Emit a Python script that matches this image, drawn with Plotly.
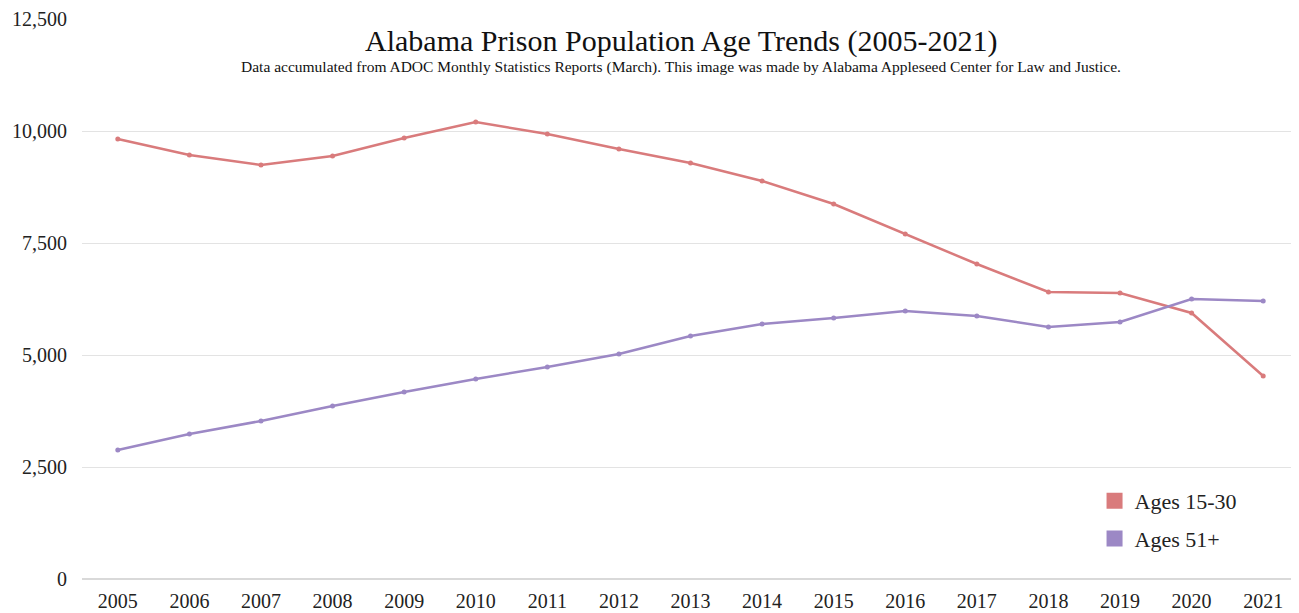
import plotly.graph_objects as go

years = [str(y) for y in range(2005, 2022)]
ages_15_30 = [9821, 9464, 9241, 9442, 9844, 10201, 9933, 9598, 9286, 8884, 8371, 7701, 7031, 6406, 6384, 5938, 4531]
ages_51_plus = [2879, 3237, 3527, 3862, 4174, 4464, 4732, 5022, 5424, 5692, 5826, 5982, 5871, 5625, 5737, 6250, 6205]
series_names = ["Ages 15-30", "Ages 51+"]
colors = ["#d97b7c", "#9c88c5"]
y_ticks = [0, 2500, 5000, 7500, 10000, 12500]

fig = go.Figure()
for name, vals, col in zip(series_names, [ages_15_30, ages_51_plus], colors):
    fig.add_trace(go.Scatter(x=years, y=vals, mode="lines+markers", name=name,
                             line=dict(color=col, width=2.5), marker=dict(color=col, size=5),
                             showlegend=False, hoverinfo="x+y"))
    fig.add_trace(go.Scatter(x=[None], y=[None], mode="markers", name=name, legendgroup=name,
                             marker=dict(color=col, size=18, symbol="square"), showlegend=True))

# body has an 8px default margin; margins compensate so the plot area lands where the reference has it
top, bottom = 11, 42
plot_h = 613 - top - bottom

def py(pix):
    # reference pixel y -> paper coordinate
    return (579 - pix) / plot_h

fig.update_layout(
    width=1299, height=613,
    margin=dict(l=74, r=8, t=top, b=bottom, autoexpand=False),
    paper_bgcolor="white", plot_bgcolor="white",
    font=dict(family="Liberation Serif", color="#222"),
    legend=dict(x=0.832, y=py(480), xanchor="left", yanchor="top",
                font=dict(size=22, family="Liberation Serif", color="#222"),
                bgcolor="rgba(0,0,0,0)", tracegroupgap=6, itemsizing="trace"),
    xaxis=dict(type="category", range=[-0.5, 16.5], showgrid=False, showline=False,
               tickfont=dict(size=20), ticks="", automargin=False, ticklabelstandoff=8),
    yaxis=dict(range=[0, 12500], tickvals=y_ticks, tickformat=",d", showgrid=True,
               gridcolor="#e3e3e3", gridwidth=1, zeroline=True, zerolinecolor="#d9d9d9",
               zerolinewidth=2, tickfont=dict(size=20), ticks="", ticklabelstandoff=14,
               automargin=False),
    annotations=[
        dict(text="Alabama Prison Population Age Trends (2005-2021)", x=0.492, y=py(41),
             xref="paper", yref="paper", showarrow=False, yanchor="middle",
             font=dict(size=30, family="Liberation Serif", color="#111")),
        dict(text="Data accumulated from ADOC Monthly Statistics Reports (March). This image was made by Alabama Appleseed Center for Law and Justice.",
             x=0.492, y=py(67), xref="paper", yref="paper", showarrow=False, yanchor="middle",
             font=dict(size=15.5, family="Liberation Serif", color="#111")),
    ],
)

fig.write_html("out.html")
